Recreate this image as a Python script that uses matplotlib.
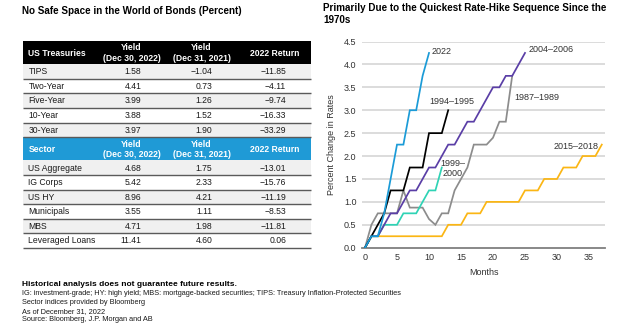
import matplotlib
matplotlib.use("Agg")
import matplotlib.pyplot as plt
from matplotlib.patches import Rectangle

plt.rcParams['font.family'] = ['Liberation Sans', 'DejaVu Sans']

# ---------------- data ----------------
left_title = "No Safe Space in the World of Bonds (Percent)"
right_title = "Primarily Due to the Quickest Rate-Hike Sequence Since the\n1970s"

col_headers_1 = ["US Treasuries", "Yield\n(Dec 30, 2022)", "Yield\n(Dec 31, 2021)", "2022 Return"]
treasury_names = ["TIPS", "Two-Year", "Five-Year", "10-Year", "30-Year"]
treasury_yield_2022 = ["1.58", "4.41", "3.99", "3.88", "3.97"]
treasury_yield_2021 = ["\u22121.04", "0.73", "1.26", "1.52", "1.90"]
treasury_return = ["\u221211.85", "\u22124.11", "\u22129.74", "\u221216.33", "\u221233.29"]

col_headers_2 = ["Sector", "Yield\n(Dec 30, 2022)", "Yield\n(Dec 31, 2021)", "2022 Return"]
sector_names = ["US Aggregate", "IG Corps", "US HY", "Municipals", "MBS", "Leveraged Loans"]
sector_yield_2022 = ["4.68", "5.42", "8.96", "3.55", "4.71", "11.41"]
sector_yield_2021 = ["1.75", "2.33", "4.21", "1.11", "1.98", "4.60"]
sector_return = ["\u221213.01", "\u221215.76", "\u221211.19", "\u22128.53", "\u221211.81", "0.06"]

footnote_bold = "Historical analysis does not guarantee future results."
footnotes = [
    "IG: investment-grade; HY: high yield; MBS: mortgage-backed securities; TIPS: Treasury Inflation-Protected Securities",
    "Sector indices provided by Bloomberg",
    "As of December 31, 2022",
    "Source: Bloomberg, J.P. Morgan and AB",
]

series_labels = ["2015\u20132018", "1987\u20131989", "1999\u2013\n2000", "2004\u20132006", "1994\u20131995", "2022"]
s_2015 = [0, 0.25, 0.25, 0.25, 0.25, 0.25, 0.25, 0.25, 0.25, 0.25, 0.25, 0.25, 0.25,
          0.5, 0.5, 0.5, 0.75, 0.75, 0.75, 1.0, 1.0, 1.0, 1.0, 1.0, 1.0,
          1.25, 1.25, 1.25, 1.5, 1.5, 1.5, 1.75, 1.75, 1.75, 2.0, 2.0, 2.0, 2.25]
s_1987 = [0, 0.5, 0.75, 0.75, 0.75, 0.75, 1.25, 0.875, 0.875, 0.875, 0.625, 0.5, 0.75, 0.75,
          1.25, 1.5, 1.75, 2.25, 2.25, 2.25, 2.4, 2.75, 2.75, 3.75]
s_1999 = [0, 0.25, 0.25, 0.5, 0.5, 0.5, 0.75, 0.75, 0.75, 1.0, 1.25, 1.25, 1.75]
s_2004 = [0, 0.25, 0.25, 0.5, 0.75, 0.75, 1.0, 1.25, 1.25, 1.5, 1.75, 1.75, 2.0, 2.25, 2.25,
          2.5, 2.75, 2.75, 3.0, 3.25, 3.5, 3.5, 3.75, 3.75, 4.0, 4.25]
s_1994 = [0, 0.25, 0.5, 0.75, 1.25, 1.25, 1.25, 1.75, 1.75, 1.75, 2.5, 2.5, 2.5, 3.0]
s_2022 = [0, 0.25, 0.25, 0.75, 1.5, 2.25, 2.25, 3.0, 3.0, 3.75, 4.25]
series = [s_2015, s_1987, s_1999, s_2004, s_1994, s_2022]
colors = ["#fbb614", "#8c8c8c", "#2fd3b5", "#5a3ea6", "#000000", "#1b9bd7"]
x_ticks = [0, 5, 10, 15, 20, 25, 30, 35]
y_ticks = [0.0, 0.5, 1.0, 1.5, 2.0, 2.5, 3.0, 3.5, 4.0, 4.5]

# ---------------- figure ----------------
W, H = 624, 324
fig = plt.figure(figsize=(W / 100, H / 100), dpi=100)
fig.patch.set_facecolor("white")

tab = fig.add_axes([0, 0, 1, 1])
tab.set_xlim(0, W)
tab.set_ylim(H, 0)
tab.axis("off")

# titles
tab.text(21.5, 13.5, left_title, fontsize=7.1, fontweight="bold", va="baseline", ha="left", color="#000")
tab.text(323, 3.0, right_title, fontsize=7.1, fontweight="bold", va="top", ha="left",
         color="#000", linespacing=1.3)

# table geometry (pixels)
tx0, tx1 = 22.7, 310.7
name_x = 28.3
hdr_cx = [None, 131.5, 201.5, 274.5]
num_rx = [141.5, 212.5, 286.0]
row_h = 14.55
line_col = "#5a5a5a"
shade = "#f0f0f0"


def draw_block(y0, hdr_h, headers, hdr_color, names, c1, c2, c3):
    tab.add_patch(Rectangle((tx0, y0), tx1 - tx0, hdr_h, color=hdr_color, lw=0))
    yc = y0 + hdr_h / 2
    tab.text(name_x, yc + 0.5, headers[0], fontsize=6.2, fontweight="bold", color="white",
             ha="left", va="center")
    for j in range(1, 4):
        tab.text(hdr_cx[j], yc + 0.5, headers[j], fontsize=6.2, fontweight="bold", color="white",
                 ha="center", va="center", linespacing=1.15)
    y = y0 + hdr_h
    for i, nm in enumerate(names):
        if i % 2 == 0:
            tab.add_patch(Rectangle((tx0, y), tx1 - tx0, row_h, color=shade, lw=0))
        cy = y + row_h / 2 + 0.3
        tab.text(name_x, cy, nm, fontsize=6.2, color="#1a1a1a", ha="left", va="center")
        for vals, rx in zip((c1, c2, c3), num_rx):
            tab.text(rx, cy, vals[i], fontsize=6.2, color="#1a1a1a", ha="right", va="center")
        y += row_h
        tab.plot([tx0, tx1], [y, y], color=line_col, lw=1.0, solid_capstyle="butt")
    return y


y_end = draw_block(40.7, 23.6, col_headers_1, "#000000", treasury_names,
                   treasury_yield_2022, treasury_yield_2021, treasury_return)
draw_block(y_end, 23.4, col_headers_2, "#1f9ad6", sector_names,
           sector_yield_2022, sector_yield_2021, sector_return)

# footnotes
tab.text(21.5, 284, footnote_bold, fontsize=6, fontweight="bold", va="center", ha="left", color="#000")
for k, line in enumerate(footnotes):
    tab.text(21.5, 293.8 + k * 8.7, line, fontsize=5.3, va="center", ha="left", color="#1a1a1a")

# ---------------- chart ----------------
ax = fig.add_axes([362 / W, 1 - 247.7 / H, (605 - 362) / W, (247.7 - 41.5) / H])
ax.set_xlim(-0.47, 37.5)
ax.set_ylim(0, 4.5)
for v in y_ticks[1:]:
    ax.axhline(v, color="#d9d9d9", lw=1.3, zorder=0)
for s, c in zip(series, colors):
    ax.plot(range(len(s)), s, color=c, lw=1.25, zorder=3, solid_joinstyle="miter")

for sp in ["top", "right", "left"]:
    ax.spines[sp].set_visible(False)
ax.spines["bottom"].set_color("#7f7f7f")
ax.spines["bottom"].set_linewidth(1.3)
ax.set_xticks(x_ticks)
ax.set_yticks(y_ticks)
ax.set_yticklabels([f"{v:.1f}" for v in y_ticks])
ax.tick_params(length=0, labelsize=6.5, labelcolor="#333333", pad=4)
ax.set_xlabel("Months", fontsize=6.5, color="#333333", labelpad=4)
ax.set_ylabel("Percent Change in Rates", fontsize=6.5, color="#333333", labelpad=6)
ax.patch.set_alpha(0)

lab_kw = dict(fontsize=6.5, color="#333333")
ax.text(10.4, 4.29, series_labels[5], ha="left", va="center", **lab_kw)
ax.text(25.5, 4.33, series_labels[3], ha="left", va="center", **lab_kw)
ax.text(23.3, 3.27, series_labels[1], ha="left", va="center", **lab_kw)
ax.text(13.5, 3.2, series_labels[4], ha="center", va="center", **lab_kw)
ax.text(13.7, 1.73, series_labels[2], ha="center", va="center", linespacing=1.2, **lab_kw)
ax.text(36.5, 2.2, series_labels[0], ha="right", va="center", **lab_kw)

fig.savefig("out.png", dpi=100)
